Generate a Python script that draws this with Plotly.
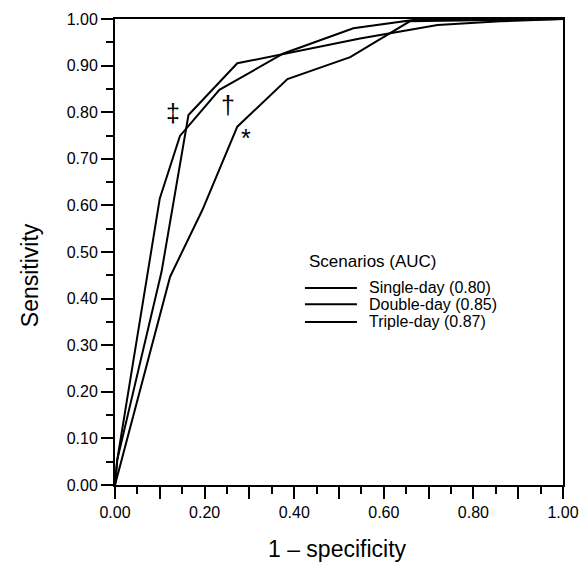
import plotly.graph_objects as go

# ROC points
fpr_single = [0.0, 0.123, 0.195, 0.273, 0.385, 0.525, 0.658, 1.0]
tpr_single = [0.0, 0.447, 0.590, 0.769, 0.871, 0.918, 0.995, 1.0]

fpr_double = [0.0, 0.005, 0.100, 0.145, 0.233, 0.376, 0.532, 0.666, 1.0]
tpr_double = [0.0, 0.054, 0.615, 0.749, 0.848, 0.926, 0.980, 0.998, 1.0]

fpr_triple = [0.0, 0.005, 0.104, 0.164, 0.273, 0.547, 0.720, 0.860, 1.0]
tpr_triple = [0.0, 0.054, 0.458, 0.794, 0.905, 0.958, 0.987, 0.995, 1.0]

series_names = ["Single-day (0.80)", "Double-day (0.85)", "Triple-day (0.87)"]
legend_title = "Scenarios (AUC)"

x_tickvals = [0.0, 0.1, 0.2, 0.3, 0.4, 0.5, 0.6, 0.7, 0.8, 0.9, 1.0]
x_ticktext = ["0.00", "", "0.20", "", "0.40", "", "0.60", "", "0.80", "", "1.00"]
y_tickvals = [0.0, 0.1, 0.2, 0.3, 0.4, 0.5, 0.6, 0.7, 0.8, 0.9, 1.0]
y_ticktext = ["0.00", "0.10", "0.20", "0.30", "0.40", "0.50", "0.60", "0.70", "0.80", "0.90", "1.00"]

marker_labels = ["‡", "†", "*"]
marker_x = [0.130, 0.253, 0.292]
marker_y = [0.798, 0.815, 0.745]

FONT = "Liberation Sans, Arial, Helvetica, sans-serif"
line_style = dict(color="black", width=2)

fig = go.Figure()
for xs, ys, nm in [(fpr_single, tpr_single, series_names[0]),
                   (fpr_double, tpr_double, series_names[1]),
                   (fpr_triple, tpr_triple, series_names[2])]:
    fig.add_trace(go.Scatter(x=xs, y=ys, mode="lines", name=nm,
                             line=line_style, showlegend=False))

axis_common = dict(
    range=[0, 1], showgrid=False, zeroline=False, automargin=False,
    showline=True, linecolor="black", linewidth=2, mirror=True,
    ticks="outside", ticklen=12, tickwidth=1.5, tickcolor="black",
    tickfont=dict(family=FONT, size=16, color="black"),
    minor=dict(dtick=0.05, ticks="outside", ticklen=7, tickwidth=1.5, tickcolor="black"),
)
fig.update_xaxes(tickmode="array", tickvals=x_tickvals, ticktext=x_ticktext, **axis_common)
fig.update_yaxes(tickmode="array", tickvals=y_tickvals, ticktext=y_ticktext, **axis_common)

annotations = []
# axis titles
annotations.append(dict(text="1 – specificity", xref="paper", yref="paper", x=0.497, y=-0.106,
                        xanchor="center", yanchor="top", showarrow=False,
                        font=dict(family=FONT, size=23, color="black")))
annotations.append(dict(text="Sensitivity", xref="paper", yref="paper", x=-0.19, y=0.45,
                        xanchor="center", yanchor="middle", textangle=-90, showarrow=False,
                        font=dict(family=FONT, size=23, color="black")))
# significance markers
for t, mx, my in zip(marker_labels, marker_x, marker_y):
    annotations.append(dict(text=t, x=mx, y=my, xref="x", yref="y", showarrow=False,
                            xanchor="center", yanchor="middle",
                            font=dict(family=FONT, size=25, color="black")))

# manual legend
leg_title_y = 0.479
leg_y = [0.423, 0.388, 0.350]
annotations.append(dict(text=legend_title, x=0.428, y=leg_title_y, xref="x", yref="y",
                        showarrow=False, xanchor="left", yanchor="middle",
                        font=dict(family=FONT, size=17, color="black")))
shapes = []
for nm, ly in zip(series_names, leg_y):
    shapes.append(dict(type="line", xref="x", yref="y", x0=0.424, x1=0.540, y0=ly, y1=ly,
                       line=dict(color="black", width=2)))
    annotations.append(dict(text=nm, x=0.562, y=ly, xref="x", yref="y", showarrow=False,
                            xanchor="left", yanchor="middle",
                            font=dict(family=FONT, size=16, color="black")))

fig.update_layout(
    width=579, height=557,
    margin=dict(l=107, r=24, t=11, b=80),
    plot_bgcolor="white", paper_bgcolor="white",
    annotations=annotations, shapes=shapes,
    font=dict(family=FONT, color="black"),
)

fig.write_html("out.html")
